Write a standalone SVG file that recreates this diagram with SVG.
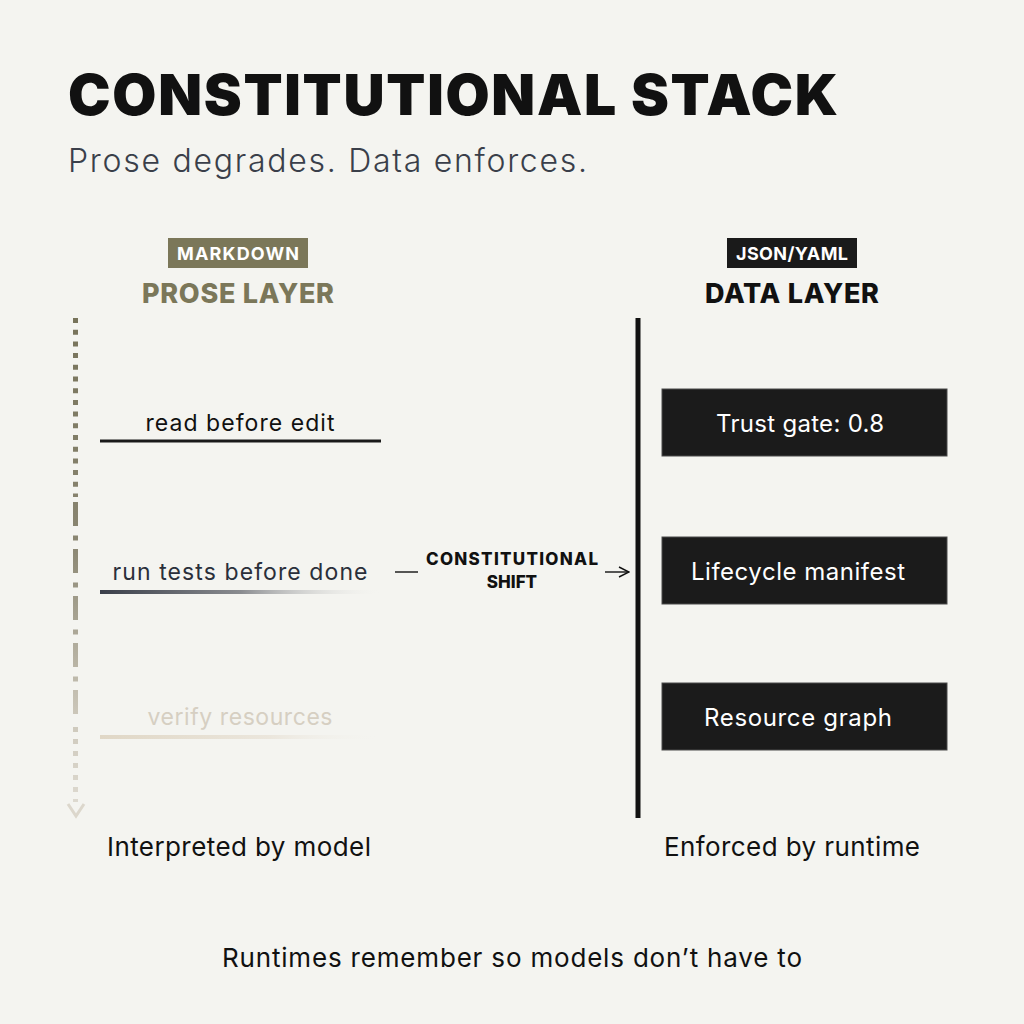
<svg xmlns="http://www.w3.org/2000/svg" width="1024" height="1024" viewBox="0 0 1024 1024">
<defs>
<style>
.f{font-family:Inter,"Liberation Sans",sans-serif}
.title{font-weight:900;font-size:57px;fill:#111}
.sub{font-size:32px;fill:#3a3f4a;font-weight:300}
.badge{font-weight:700;font-size:18px;fill:#fff}
.layer{font-weight:800;font-size:27px}
.item{font-size:23px}
.box{fill:#1b1b1b;stroke:#4a4a4a;stroke-width:1}
.boxt{font-size:24px;fill:#fff}
.shift{font-weight:800;font-size:17px;fill:#111}
.cap{font-size:26px;fill:#111}
</style>
<linearGradient id="lineG" gradientUnits="userSpaceOnUse" x1="0" y1="318" x2="0" y2="818">
<stop offset="0" stop-color="#77735a"/>
<stop offset="0.45" stop-color="#8a8672"/>
<stop offset="0.8" stop-color="#cdc8bb"/>
<stop offset="1" stop-color="#e0dcd3"/>
</linearGradient>
<linearGradient id="ul2" x1="0" y1="0" x2="1" y2="0">
<stop offset="0" stop-color="#3a3f4a"/>
<stop offset="0.5" stop-color="#8a8c90"/>
<stop offset="1" stop-color="#f4f4f0" stop-opacity="0"/>
</linearGradient>
<linearGradient id="ul3" x1="0" y1="0" x2="1" y2="0">
<stop offset="0" stop-color="#e0d7c6"/>
<stop offset="0.6" stop-color="#ebe6dc"/>
<stop offset="1" stop-color="#f4f4f0" stop-opacity="0"/>
</linearGradient>
<marker id="arr" viewBox="0 0 12 12" refX="11" refY="6" markerWidth="12" markerHeight="12" markerUnits="userSpaceOnUse" orient="auto">
<path d="M1,1 L11,6 L1,11" fill="none" stroke="#111" stroke-width="1.4"/>
</marker>
</defs>
<rect width="1024" height="1024" fill="#f4f4f0"/>

<g id="header" class="f">
<text class="title" x="68" y="115" textLength="770">CONSTITUTIONAL STACK</text>
<text class="sub" x="68" y="172" textLength="519">Prose degrades. Data enforces.</text>
</g>

<g id="prose-header" class="f">
<rect x="168" y="238" width="140" height="30" fill="#7b7759"/>
<text class="badge" x="238" y="259.5" text-anchor="middle" textLength="122">MARKDOWN</text>
<text class="layer" x="238" y="303" text-anchor="middle" fill="#7b7759" textLength="192">PROSE LAYER</text>
</g>

<g id="data-header" class="f">
<rect x="727" y="238" width="130" height="30" fill="#1a1a1a"/>
<text class="badge" x="792" y="259.5" text-anchor="middle" textLength="112">JSON/YAML</text>
<text class="layer" x="792" y="303" text-anchor="middle" fill="#111" textLength="174">DATA LAYER</text>
</g>

<g id="decay-line">
<line x1="75.5" y1="318" x2="75.5" y2="497" stroke="url(#lineG)" stroke-width="5" stroke-dasharray="5 6.7"/>
<line x1="75.5" y1="502" x2="75.5" y2="720" stroke="url(#lineG)" stroke-width="5" stroke-dasharray="24 9.5 5 8.5"/>
<line x1="75.5" y1="727" x2="75.5" y2="802" stroke="url(#lineG)" stroke-width="5" stroke-dasharray="5 7"/>
<path d="M68,804 L76,816 L84,804" fill="none" stroke="#dcd7cc" stroke-width="3"/>
</g>

<g id="prose-1" class="f">
<text class="item" x="240" y="431" text-anchor="middle" fill="#111" textLength="189">read before edit</text>
<line x1="100" y1="441" x2="381" y2="441" stroke="#1a1a1a" stroke-width="3"/>
</g>
<g id="prose-2" class="f">
<text class="item" x="240" y="580" text-anchor="middle" fill="#2a2f3a" textLength="255">run tests before done</text>
<rect x="100" y="590" width="282" height="4" fill="url(#ul2)"/>
</g>
<g id="prose-3" class="f">
<text class="item" x="240" y="725" text-anchor="middle" fill="#d6cfc2" textLength="185">verify resources</text>
<rect x="100" y="735" width="282" height="4" fill="url(#ul3)"/>
</g>

<g id="data-rail">
<line x1="638" y1="318" x2="638" y2="818" stroke="#111" stroke-width="5"/>
</g>

<g id="data-1" class="f">
<rect class="box" x="662" y="389" width="285" height="67"/>
<text class="boxt" x="800" y="432" text-anchor="middle" textLength="168">Trust gate: 0.8</text>
</g>
<g id="data-2" class="f">
<rect class="box" x="662" y="537" width="285" height="67"/>
<text class="boxt" x="798" y="580" text-anchor="middle" textLength="214">Lifecycle manifest</text>
</g>
<g id="data-3" class="f">
<rect class="box" x="662" y="683" width="285" height="67"/>
<text class="boxt" x="798" y="726" text-anchor="middle" textLength="188">Resource graph</text>
</g>

<g id="connectors">
<line x1="395" y1="572" x2="418" y2="572" stroke="#111" stroke-width="1.4"/>
<line x1="605" y1="572" x2="629" y2="572" stroke="#111" stroke-width="1.4" marker-end="url(#arr)"/>
<text class="f shift" x="512" y="565" text-anchor="middle" textLength="172">CONSTITUTIONAL</text>
<text class="f shift" x="512" y="588" text-anchor="middle">SHIFT</text>
</g>

<g id="captions" class="f">
<text class="cap" x="239" y="856" text-anchor="middle" textLength="264">Interpreted by model</text>
<text class="cap" x="792" y="856" text-anchor="middle" textLength="256">Enforced by runtime</text>
<text class="cap" x="512" y="967" text-anchor="middle" fill="#3a3f4a" textLength="580">Runtimes remember so models don’t have to</text>
</g>
</svg>
